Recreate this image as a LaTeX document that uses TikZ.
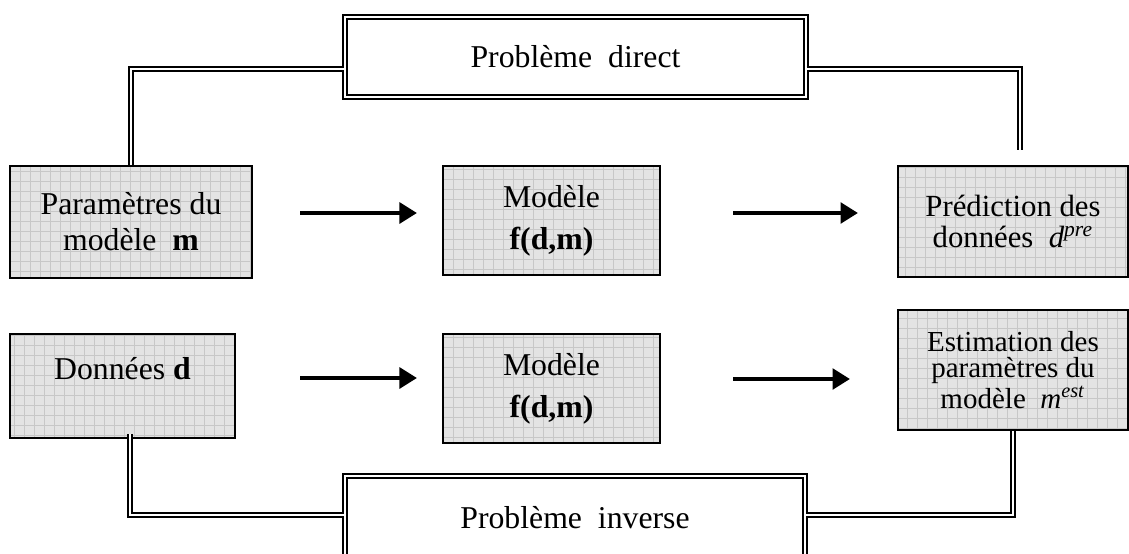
\documentclass[tikz,border=0pt]{standalone}
\usepackage{fontspec}
\setmainfont{Liberation Serif}
\usepackage{tikz}
\usetikzlibrary{arrows.meta, positioning}

\begin{document}
\begin{tikzpicture}[x=0.4pt, y=-0.4pt,
  every node/.style={anchor=center, align=center, inner sep=0pt,
    font=\fontsize{12.7}{14.4}\selectfont},
  gridbox/.style={draw, line width=0.8pt, fill=black!11,
    path picture={\draw[black!22, line width=0.25pt]
      (path picture bounding box.south west) grid[step=4pt]
      (path picture bounding box.north east);}},
  twinbox/.style={draw, line width=0.8pt, double, double distance=0.8pt, fill=white},
  twin/.style={line width=0.6pt, double, double distance=1pt},
  flow/.style={line width=1.7pt, -{Triangle[length=7pt, width=8.2pt]}}]

\useasboundingbox (0,0) rectangle (1129,554);

% top row
\node[gridbox, minimum width=96.8pt, minimum height=44.8pt] (param) at (131,222)
  {Param\`etres du\\ mod\`ele\ \ \textbf{m}};
\node[gridbox, minimum width=86.8pt, minimum height=43.6pt, font=\fontsize{12.7}{16.8}\selectfont] (model1) at (551.5,220.5)
  {Mod\`ele\\ \textbf{f(d,m)}};
\node[gridbox, minimum width=92pt, minimum height=44.4pt, font=\fontsize{12.3}{12.4}\selectfont] (pred) at (1013,221.5)
  {Pr\'ediction des\\ donn\'ees\ \ \textit{d}\textsuperscript{\textit{pre}}};

% bottom row
\node[gridbox, minimum width=90pt, minimum height=41.6pt] (data) at (122.5,386)
  {Donn\'ees \textbf{d}\\ \mbox{}};
\node[gridbox, minimum width=86.8pt, minimum height=43.6pt, font=\fontsize{12.7}{16.8}\selectfont] (model2) at (551.5,388.5)
  {Mod\`ele\\ \textbf{f(d,m)}};
\node[gridbox, minimum width=92pt, minimum height=48pt, font=\fontsize{11.6}{10.6}\selectfont] (est) at (1013,370)
  {Estimation des\\ param\`etres du\\ mod\`ele\ \ \textit{m}\textsuperscript{\textit{est}}};

% problem boxes
\node[twinbox, minimum width=184pt, minimum height=32pt] (direct) at (575.5,56.5)
  {Probl\`eme\ \ direct};
\node[twinbox, minimum width=184pt, minimum height=33pt] (inverse) at (575,517.5)
  {Probl\`eme\ \ inverse};

% arrows
\draw[flow, shorten <=18.8pt, shorten >=10pt] (param.east |- 0,213) -- (model1.west |- 0,213);
\draw[flow, shorten <=28.8pt, shorten >=15.6pt] (model1.east |- 0,213) -- (pred.west |- 0,213);
\draw[flow, shorten <=25.6pt, shorten >=10pt] (data.east |- 0,378) -- (model2.west |- 0,378);
\draw[flow, shorten <=28.8pt, shorten >=18.8pt] (model2.east |- 0,379) -- (est.west |- 0,379);

% double connectors
\coordinate (dirend) at (1020,150);
\draw[twin] (param.north) |- ([yshift=-5pt]direct.west);
\draw[twin] ([yshift=-5pt]direct.east) -| (dirend);
\draw[twin] ([xshift=3pt, yshift=2pt]data.south) |- ([yshift=1pt]inverse.west);
\draw[twin] (est.south) |- ([yshift=1pt]inverse.east);

\end{tikzpicture}
\end{document}
